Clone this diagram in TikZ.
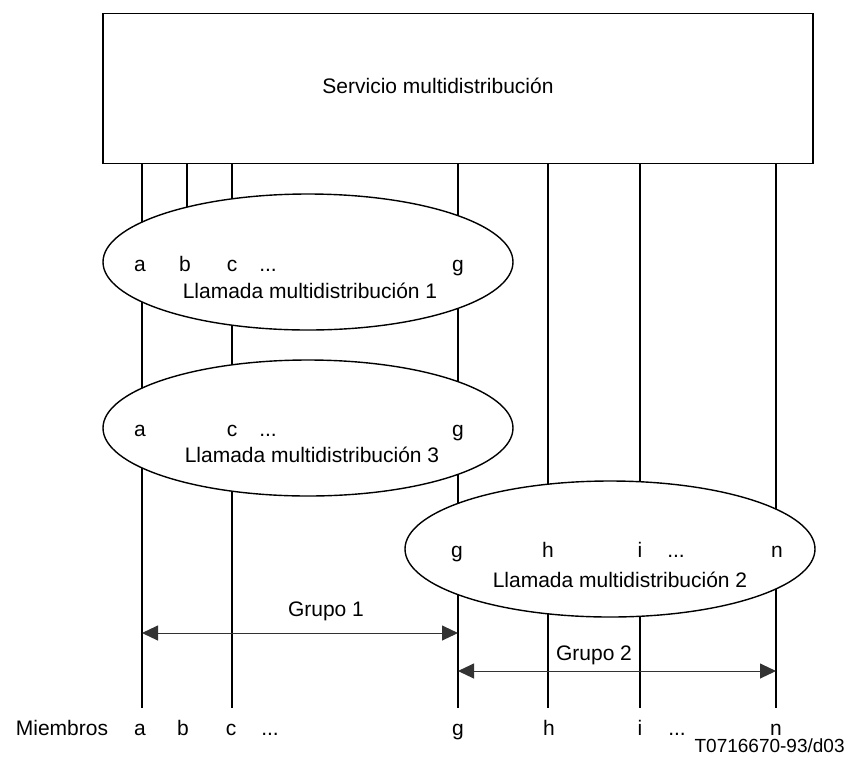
\documentclass[tikz,border=0pt]{standalone}
\usepackage{fontspec}
\setmainfont{Liberation Sans}
\usetikzlibrary{shapes.geometric,arrows.meta}

\begin{document}
\begin{tikzpicture}[x=0.5pt,y=-0.5pt,font=\fontsize{10.5}{12.5}\selectfont,
    linea/.style={black,line width=0.7pt},
    llamada/.style={draw,ellipse,fill=white,line width=0.7pt,minimum width=205pt,minimum height=68pt},
    grupo/.style={black!80,line width=0.5pt,{Triangle[length=8pt,width=7.5pt]}-{Triangle[length=8pt,width=7.5pt]}},
    txt/.style={anchor=base}]
    \useasboundingbox (0,0) rectangle (846,762);
    \tikzstyle{every node}+=[inner sep=0pt]
    \node [draw,line width=0.7pt,minimum width=355pt,minimum height=75pt] (srv) at (458,88.5) {};
    \node [txt] (srvt) at (438,93) {Servicio multidistribución};
    \coordinate (a) at (142,708);
    \coordinate (b) at (187,262);
    \coordinate (c) at (232,708);
    \coordinate (g) at (458,708);
    \coordinate (h) at (548,708);
    \coordinate (i) at (640,708);
    \coordinate (n) at (776,708);
    \draw [linea] (srv.south -| a) -- (a);
    \draw [linea] (srv.south -| b) -- (b);
    \draw [linea] (srv.south -| c) -- (c);
    \draw [linea] (srv.south -| g) -- (g);
    \draw [linea] (srv.south -| h) -- (h);
    \draw [linea] (srv.south -| i) -- (i);
    \draw [linea] (srv.south -| n) -- (n);
    \node [llamada] (ll1) at (308,262) {};
    \node [txt] (ll1a) at (140,271) {a};
    \node [txt] (ll1b) at (185,271) {b};
    \node [txt] (ll1c) at (232,271) {c};
    \node [txt] (ll1d) at (268,271) {...};
    \node [txt] (ll1g) at (458,271) {g};
    \node [txt] (ll1t) at (310,298) {Llamada multidistribución 1};
    \node [llamada] (ll3) at (308,428) {};
    \node [txt] (ll3a) at (140,436) {a};
    \node [txt] (ll3c) at (232,436) {c};
    \node [txt] (ll3d) at (268,436) {...};
    \node [txt] (ll3g) at (458,436) {g};
    \node [txt] (ll3t) at (312,462) {Llamada multidistribución 3};
    \node [llamada] (ll2) at (610,549) {};
    \node [txt] (ll2g) at (457,557) {g};
    \node [txt] (ll2h) at (548,557) {h};
    \node [txt] (ll2i) at (640,557) {i};
    \node [txt] (ll2d) at (676,557) {...};
    \node [txt] (ll2n) at (777,557) {n};
    \node [txt] (ll2t) at (620,587) {Llamada multidistribución 2};
    \coordinate (g1a) at (142,633);
    \coordinate (g1b) at (458,633);
    \draw [grupo] (g1a) -- (g1b);
    \node [txt] (g1t) at (326,616) {Grupo 1};
    \coordinate (g2a) at (458,671);
    \coordinate (g2b) at (776,671);
    \draw [grupo] (g2a) -- (g2b);
    \node [txt] (g2t) at (594,660) {Grupo 2};
    \node [txt] (mie) at (62,735) {Miembros};
    \node [txt] (ma) at (140,735) {a};
    \node [txt] (mb) at (183,735) {b};
    \node [txt] (mc) at (231,735) {c};
    \node [txt] (md1) at (270,735) {...};
    \node [txt] (mg) at (458,735) {g};
    \node [txt] (mh) at (549,735) {h};
    \node [txt] (mi) at (640,735) {i};
    \node [txt] (md2) at (677,735) {...};
    \node [txt] (mn) at (776,735) {n};
    \node [anchor=base east,font=\fontsize{9.5}{11}\selectfont] (ref) at (845,752) {T0716670-93/d03};
\end{tikzpicture}
\end{document}
